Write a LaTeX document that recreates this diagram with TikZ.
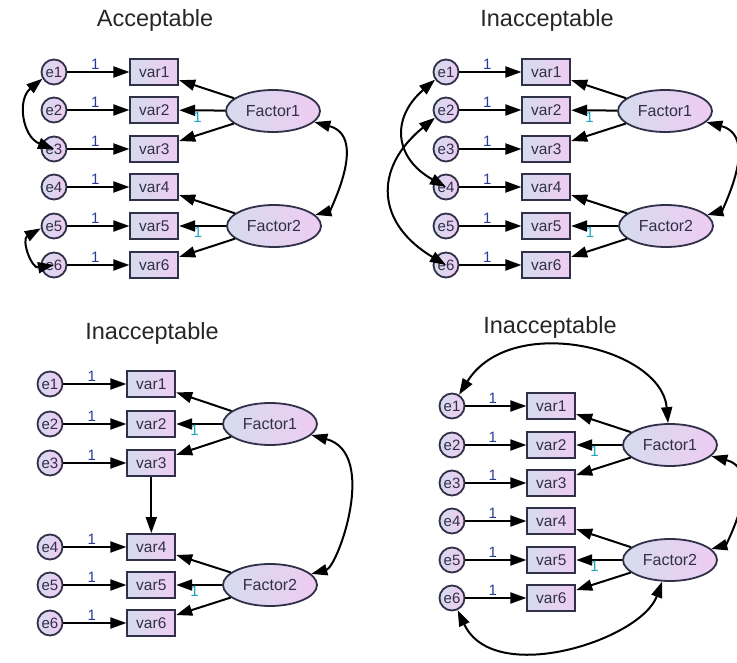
\documentclass[tikz,border=0pt]{standalone}
\usepackage{fontspec}
\setmainfont{Liberation Sans}
\usepackage{xcolor}
\usetikzlibrary{arrows.meta, positioning, shapes.geometric}
\definecolor{shadeL}{RGB}{214,219,238}
\definecolor{shadeR}{RGB}{238,204,242}
\definecolor{ink}{RGB}{48,48,72}
\definecolor{wone}{RGB}{40,60,150}
\definecolor{fone}{RGB}{30,165,195}
\tikzset{
  errc/.style={circle, draw=ink, line width=1.8pt, left color=shadeL, right color=shadeR,
    inner sep=0pt, minimum size=25pt, font=\fontsize{15}{15}\selectfont, text=ink},
  obsbox/.style={rectangle, draw=ink, line width=1.8pt, left color=shadeL, right color=shadeR,
    inner sep=0pt, minimum width=48pt, minimum height=26pt, font=\fontsize{15.5}{15.5}\selectfont, text=ink},
  latent/.style={ellipse, draw=ink, line width=1.8pt, left color=shadeL, right color=shadeR,
    inner sep=0pt, minimum width=94pt, minimum height=42pt, font=\fontsize{16}{16}\selectfont, text=ink},
  regr/.style={-{Triangle[length=16pt, width=11pt]}, line width=2pt},
  cov/.style={{Triangle[length=16pt, width=11pt]}-{Triangle[length=16pt, width=11pt]}, line width=2pt},
  wlab/.style={font=\fontsize{15}{15}\selectfont, text=wone, inner sep=1.5pt},
  flab/.style={font=\fontsize{15}{15}\selectfont, text=fone, inner sep=0.5pt},
  ttl/.style={font=\fontsize{23.5}{23.5}\selectfont, text=black!85}
}

\begin{document}
\begin{tikzpicture}[x=1pt, y=-1pt]
  \clip (0,0) rectangle (737,663);
  \fill[white] (0,0) rectangle (737,663);

  % top left and top right share one layout
  \foreach \pnl/\dx/\ttext in {a/0/Acceptable, b/392/Inacceptable}{
  \begin{scope}[shift={(\dx,0)}, name prefix=\pnl-]
    \node[ttl] (title) at (155,20) {\ttext};
    \foreach \i/\y in {1/72, 2/110, 3/149, 4/187, 5/226, 6/265}{
      \node[errc] (e\i) at (54,\y) {e\i};
      \node[obsbox, right=62pt of e\i] (var\i) {var\i};
      \draw[regr] (e\i) -- node[wlab, above, pos=0.45] {1} (var\i);
    }
    \node[latent] (F1) at (273,111) {Factor1};
    \node[latent] (F2) at (274,226) {Factor2};
    \draw[regr] (F1) -- (var1);
    \draw[regr] (F1) -- node[flab, below, pos=0.6] {1} (var2);
    \draw[regr] (F1) -- (var3);
    \draw[regr] (F2) -- (var4);
    \draw[regr] (F2) -- node[flab, below, pos=0.6] {1} (var5);
    \draw[regr] (F2) -- (var6);
    \draw[cov] (F1) to[out=-15, in=15, looseness=1.3] (F2);
  \end{scope}
  }
  \begin{scope}[name prefix=a-]
    \draw[cov] (e1) to[bend right=60, looseness=1.2] (e3);
    \draw[cov] (e5) to[bend right=80, looseness=1.5] (e6);
  \end{scope}
  \begin{scope}[name prefix=b-]
    \draw[cov] (e1) to[bend right=55, looseness=1.4] (e4);
    \draw[cov] (e2) to[bend right=55, looseness=1.4] (e6);
  \end{scope}

  % bottom left
  \begin{scope}[name prefix=c-]
    \node[ttl] (title) at (152,333) {Inacceptable};
    \foreach \i/\y in {1/384, 2/424, 3/463, 4/547, 5/585, 6/623}{
      \node[errc] (e\i) at (50,\y) {e\i};
      \node[obsbox, right=63pt of e\i] (var\i) {var\i};
      \draw[regr] (e\i) -- node[wlab, above, pos=0.45] {1} (var\i);
    }
    \node[latent] (F1) at (270,424) {Factor1};
    \node[latent] (F2) at (270,585) {Factor2};
    \draw[regr] (F1) -- (var1);
    \draw[regr] (F1) -- node[flab, below, pos=0.6] {1} (var2);
    \draw[regr] (F1) -- (var3);
    \draw[regr] (F2) -- (var4);
    \draw[regr] (F2) -- node[flab, below, pos=0.6] {1} (var5);
    \draw[regr] (F2) -- (var6);
    \draw[regr] (var3) -- (var4);
    \draw[cov] (F1) to[out=-15, in=15, looseness=1.15] (F2);
  \end{scope}

  % bottom right
  \begin{scope}[name prefix=d-]
    \node[ttl] (title) at (550,327) {Inacceptable};
    \foreach \i/\y in {1/406, 2/445, 3/483, 4/521, 5/560, 6/598}{
      \node[errc] (e\i) at (452,\y) {e\i};
      \node[obsbox, right=61pt of e\i] (var\i) {var\i};
      \draw[regr] (e\i) -- node[wlab, above, pos=0.45] {1} (var\i);
    }
    \node[latent] (F1) at (670,445) {Factor1};
    \node[latent] (F2) at (670,560) {Factor2};
    \draw[regr] (F1) -- (var1);
    \draw[regr] (F1) -- node[flab, below, pos=0.6] {1} (var2);
    \draw[regr] (F1) -- (var3);
    \draw[regr] (F2) -- (var4);
    \draw[regr] (F2) -- node[flab, below, pos=0.6] {1} (var5);
    \draw[regr] (F2) -- (var6);
    \draw[cov] (F1) to[out=-15, in=15, looseness=1.3] (F2);
    \draw[cov] (e1) to[out=58, in=95, looseness=1.15] (F1);
    \draw[cov] (e6) to[out=-65, in=-110, looseness=1.0] (F2);
  \end{scope}
\end{tikzpicture}
\end{document}
